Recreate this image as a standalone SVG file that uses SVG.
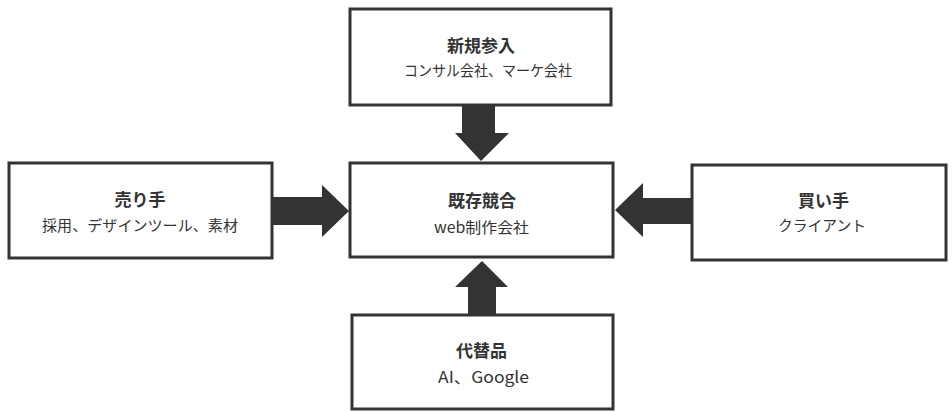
<svg xmlns="http://www.w3.org/2000/svg" width="952" height="412" viewBox="0 0 952 412">
<style>
.box{fill:#fff;stroke:#333;stroke-width:3}
.arrow{fill:#333}
.t{font-family:"Noto Sans CJK JP","Noto Sans",sans-serif;font-weight:bold;font-size:17px;fill:#333;text-anchor:middle}
.s{font-family:"Noto Sans CJK JP","Noto Sans",sans-serif;font-size:15px;fill:#333}
</style>
<rect width="952" height="412" fill="#fff"/>
<g id="connectors">
<polygon class="arrow" points="462,105 495,105 495,133 509,133 481,161 455,133 462,133"/>
<polygon class="arrow" points="272,197 322,197 322,185 349,211 322,237 322,225 272,225"/>
<polygon class="arrow" points="692,198 643,198 643,183 615,210 643,237 643,224 692,224"/>
<polygon class="arrow" points="468,315 496,315 496,287 508,287 482,261 455,287 468,287"/>
</g>
<g id="top">
<rect class="box" x="350" y="9" width="261" height="96"/>
<text class="t" x="481" y="52">新規参入</text>
<text class="s" x="404" y="76" textLength="168" lengthAdjust="spacingAndGlyphs">コンサル会社、マーケ会社</text>
</g>
<g id="center">
<rect class="box" x="350" y="163" width="263" height="94"/>
<text class="t" x="482" y="207">既存競合</text>
<text class="s" x="434" y="233" textLength="95" lengthAdjust="spacingAndGlyphs">web制作会社</text>
</g>
<g id="left">
<rect class="box" x="9" y="163" width="263" height="95"/>
<text class="t" x="140" y="206">売り手</text>
<text class="s" x="42" y="231" textLength="196" lengthAdjust="spacingAndGlyphs">採用、デザインツール、素材</text>
</g>
<g id="right">
<rect class="box" x="692" y="165" width="254" height="95"/>
<text class="t" x="823.5" y="207">買い手</text>
<text class="s" x="778" y="231" textLength="88" lengthAdjust="spacingAndGlyphs">クライアント</text>
</g>
<g id="bottom">
<rect class="box" x="352" y="315" width="261" height="94"/>
<text class="t" x="481.5" y="357">代替品</text>
<text class="s" x="438" y="383" textLength="91" lengthAdjust="spacingAndGlyphs" style="font-size:16px">AI、Google</text>
</g>
</svg>
